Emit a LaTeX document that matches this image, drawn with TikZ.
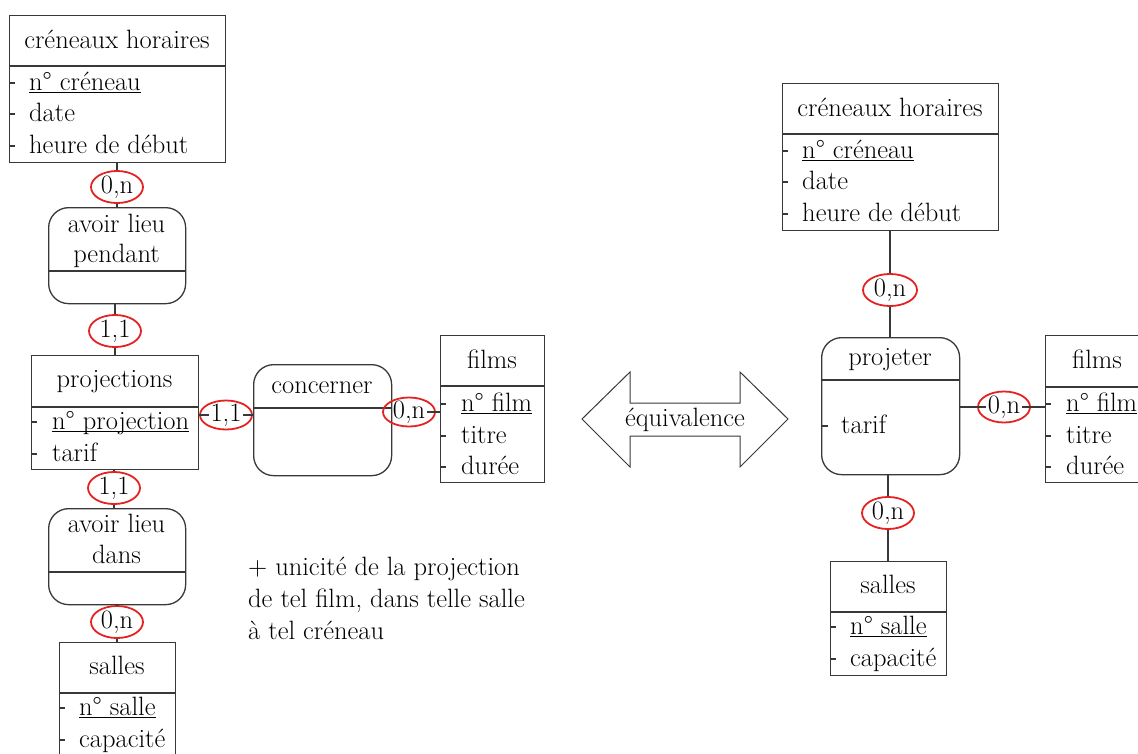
\documentclass[tikz,border=0pt]{standalone}
\usepackage{fontspec}
\usetikzlibrary{shapes.geometric}
\definecolor{linecol}{HTML}{383838}
\definecolor{cardred}{HTML}{E42222}
\newcommand\keyattr[1]{\setbox0\hbox{#1}\rlap{\rule[-3pt]{\wd0}{1pt}}\box0}
\tikzset{
  every node/.style={font=\fontsize{26.5}{32}\selectfont, text=black},
  ln/.style={draw=linecol, line width=1.3pt},
  tick/.style={draw=linecol, line width=2pt},
  ent/.style={draw=linecol, line width=1.3pt, rectangle, anchor=north west, inner sep=0pt},
  rel/.style={ent, rounded corners=20pt},
  card/.style={ellipse, draw=cardred, line width=1.8pt, inner sep=0pt, minimum width=52pt, minimum height=29pt},
  cardtxt/.style={inner sep=1.5pt},
  lab/.style={anchor=base, inner sep=0pt},
  att/.style={anchor=base west, inner sep=0pt},
}
\begin{document}
\begin{tikzpicture}[x=1pt, y=-1pt]
\useasboundingbox (0,0) rectangle (1138,753);
\clip (0,0) rectangle (1138,753);

% ---------------- left diagram ----------------
\node[ent, minimum width=216pt, minimum height=147pt] (ch1) at (9,15) {};
\draw[ln] ([yshift=-51pt]ch1.north west) -- ([yshift=-51pt]ch1.north east);
\node[lab] (ch1t) at (117,48) {créneaux horaires};
\node[att] (ch1a) at (29,90) {\keyattr{n° créneau}};
\node[att] (ch1b) at (29,121) {date};
\node[att] (ch1c) at (29,153) {heure de début};
\draw[tick] (ch1.west |- 0,83) -- ++(6,0);
\draw[tick] (ch1.west |- 0,114) -- ++(6,0);
\draw[tick] (ch1.west |- 0,146) -- ++(6,0);

\node[rel, minimum width=137pt, minimum height=96pt] (alp) at (48,207) {};
\draw[ln] ([yshift=-64pt]alp.north west) -- ([yshift=-64pt]alp.north east);
\node[lab] (alpt1) at (116.5,232) {avoir lieu};
\node[lab] (alpt2) at (116.5,262) {pendant};

\node[ent, minimum width=167pt, minimum height=114pt] (proj) at (31,355) {};
\draw[ln] ([yshift=-52pt]proj.north west) -- ([yshift=-52pt]proj.north east);
\node[lab] (projt) at (114.5,387) {projections};
\node[att] (proja) at (52,429) {\keyattr{n° projection}};
\node[att] (projb) at (52,461) {tarif};
\draw[tick] (proj.west |- 0,422) -- ++(6,0);
\draw[tick] (proj.west |- 0,454) -- ++(6,0);

\node[rel, minimum width=137pt, minimum height=96pt] (ald) at (48,508) {};
\draw[ln] ([yshift=-64pt]ald.north west) -- ([yshift=-64pt]ald.north east);
\node[lab] (aldt1) at (116.5,532) {avoir lieu};
\node[lab] (aldt2) at (116.5,563) {dans};

\node[ent, minimum width=116pt, minimum height=120pt] (sal1) at (59,642) {};
\draw[ln] ([yshift=-51pt]sal1.north west) -- ([yshift=-51pt]sal1.north east);
\node[lab] (sal1t) at (117,674) {salles};
\node[att] (sal1a) at (79,715) {\keyattr{n° salle}};
\node[att] (sal1b) at (79,747) {capacité};
\draw[tick] (sal1.west |- 0,708) -- ++(6,0);
\draw[tick] (sal1.west |- 0,740) -- ++(6,0);

\node[rel, minimum width=138pt, minimum height=111pt] (conc) at (253,364) {};
\draw[ln] ([yshift=-44pt]conc.north west) -- ([yshift=-44pt]conc.north east);
\node[lab] (conct) at (322,393) {concerner};

\node[ent, minimum width=104pt, minimum height=147pt] (films1) at (440,335) {};
\draw[ln] ([yshift=-51pt]films1.north west) -- ([yshift=-51pt]films1.north east);
\node[lab] (films1t) at (492,368) {films};
\node[att] (films1a) at (461,411) {\keyattr{n° film}};
\node[att] (films1b) at (461,443) {titre};
\node[att] (films1c) at (461,474) {durée};
\draw[tick] (films1.west |- 0,404) -- ++(6,0);
\draw[tick] (films1.west |- 0,436) -- ++(6,0);
\draw[tick] (films1.west |- 0,467) -- ++(6,0);

\node[card] (c1) at (117,187) {0,n};
\draw[ln] (c1) -- (ch1.south -| c1);
\draw[ln] (c1) -- (alp.north -| c1);
\node[card] (c2) at (115,331) {1,1};
\draw[ln] (c2) -- (alp.south -| c2);
\draw[ln] (c2) -- (proj.north -| c2);
\node[card] (c3) at (114,488) {1,1};
\draw[ln] (c3) -- (proj.south -| c3);
\draw[ln] (c3) -- (ald.north -| c3);
\node[card] (c4) at (117,622) {0,n};
\draw[ln] (c4) -- (ald.south -| c4);
\draw[ln] (c4) -- (sal1.north -| c4);

\node[card] (c5) at (226,415) {};
\node[cardtxt] (c5t) at (c5) {1,1};
\draw[ln] (proj.east |- c5) -- (c5t.west |- c5);
\draw[ln] (c5t.east |- c5) -- (conc.west |- c5);
\node[card] (c6) at (409,412) {};
\node[cardtxt] (c6t) at (c6) {0,n};
\draw[ln] (conc.east |- c6) -- (c6t.west |- c6);
\draw[ln] (c6t.east |- c6) -- (films1.west |- c6);

\node[att] (note1) at (248,575) {+ unicité de la projection};
\node[att] (note2) at (248,607) {de tel film, dans telle salle};
\node[att] (note3) at (248,639) {à tel créneau};

% ---------------- equivalence arrow ----------------
\draw[draw=linecol, line width=1pt, line join=miter]
  (582,419) -- (630,372) -- (630,403) -- (740,403) -- (740,372) -- (788,419)
  -- (740,467) -- (740,436) -- (630,436) -- (630,467) -- cycle;
\node (equiv) at (685,420) {équivalence};

% ---------------- right diagram ----------------
\node[ent, minimum width=216pt, minimum height=147pt] (ch2) at (782,83) {};
\draw[ln] ([yshift=-51pt]ch2.north west) -- ([yshift=-51pt]ch2.north east);
\node[lab] (ch2t) at (890,116) {créneaux horaires};
\node[att] (ch2a) at (802,158) {\keyattr{n° créneau}};
\node[att] (ch2b) at (802,189) {date};
\node[att] (ch2c) at (802,221) {heure de début};
\draw[tick] (ch2.west |- 0,151) -- ++(6,0);
\draw[tick] (ch2.west |- 0,182) -- ++(6,0);
\draw[tick] (ch2.west |- 0,214) -- ++(6,0);

\node[rel, minimum width=138pt, minimum height=137pt] (pjr) at (821,337) {};
\draw[ln] ([yshift=-43pt]pjr.north west) -- ([yshift=-43pt]pjr.north east);
\node[lab] (pjrt) at (890,365) {projeter};
\node[att] (pjra) at (841,433) {tarif};
\draw[tick] (pjr.west |- 0,426) -- ++(7,0);

\node[ent, minimum width=104pt, minimum height=147pt] (films2) at (1045,335) {};
\draw[ln] ([yshift=-52pt]films2.north west) -- ([yshift=-52pt]films2.north east);
\node[lab] (films2t) at (1097,368) {films};
\node[att] (films2a) at (1066,411) {\keyattr{n° film}};
\node[att] (films2b) at (1066,443) {titre};
\node[att] (films2c) at (1066,474) {durée};
\draw[tick] (films2.west |- 0,404) -- ++(6,0);
\draw[tick] (films2.west |- 0,436) -- ++(6,0);
\draw[tick] (films2.west |- 0,467) -- ++(6,0);

\node[ent, minimum width=116pt, minimum height=114pt] (sal2) at (830,561) {};
\draw[ln] ([yshift=-51pt]sal2.north west) -- ([yshift=-51pt]sal2.north east);
\node[lab] (sal2t) at (888,593) {salles};
\node[att] (sal2a) at (850,634) {\keyattr{n° salle}};
\node[att] (sal2b) at (850,666) {capacité};
\draw[tick] (sal2.west |- 0,627) -- ++(6,0);
\draw[tick] (sal2.west |- 0,659) -- ++(6,0);

\node[card, minimum width=54pt, minimum height=31pt] (c7) at (890,290) {0,n};
\draw[ln] (c7) -- (ch2.south -| c7);
\draw[ln] (c7) -- (pjr.north -| c7);
\node[card, minimum height=31pt] (c9) at (888,513) {0,n};
\draw[ln] (c9) -- (pjr.south -| c9);
\draw[ln] (c9) -- (sal2.north -| c9);
\node[card, minimum height=31pt] (c8) at (1004,407) {};
\node[cardtxt] (c8t) at (c8) {0,n};
\draw[ln] (pjr.east |- c8) -- (c8t.west |- c8);
\draw[ln] (c8t.east |- c8) -- (films2.west |- c8);
\end{tikzpicture}
\end{document}
